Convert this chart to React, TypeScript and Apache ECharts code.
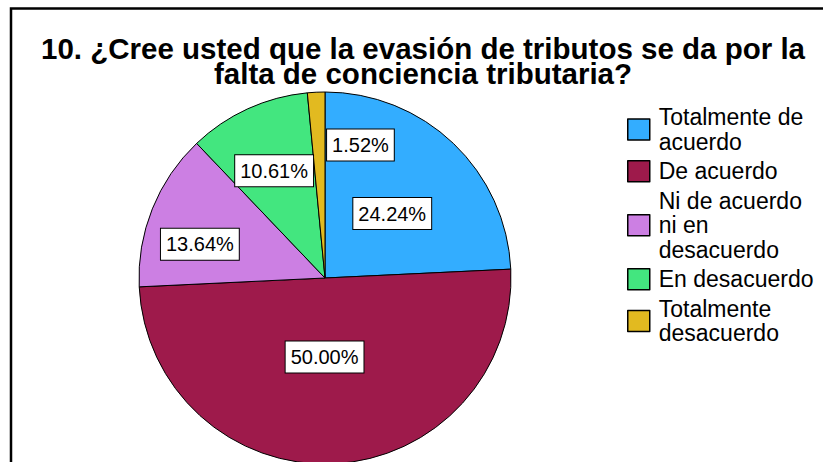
import React, { useEffect, useRef } from "react";
import * as echarts from "echarts";

const TITLE_LINES = [
  "10. ¿Cree usted que la evasión de tributos se da por la",
  "falta de conciencia tributaria?",
];
const CATEGORIES = [
  "Totalmente de acuerdo",
  "De acuerdo",
  "Ni de acuerdo ni en desacuerdo",
  "En desacuerdo",
  "Totalmente desacuerdo",
];
const LEGEND_LABELS = [
  "Totalmente de\nacuerdo",
  "De acuerdo",
  "Ni de acuerdo\nni en\ndesacuerdo",
  "En desacuerdo",
  "Totalmente\ndesacuerdo",
];
const COUNTS = [16, 33, 9, 7, 1];
const COLORS = ["#33adff", "#9e1a4b", "#cc7fe3", "#43e67f", "#e2ba20"];
// label nudges (style only)
const LABEL_SHIFTS = [
  [1, 5],
  [-5, -17],
  [-36, 2],
  [-11, -20],
  [40, -37],
];

const FONT = "'Liberation Sans', Arial, sans-serif";

export default function App() {
  const ref = useRef<HTMLDivElement>(null);
  useEffect(() => {
    if (!ref.current) return;
    const chart = echarts.init(ref.current, null, { renderer: "svg" });
    const total = COUNTS.reduce((a, b) => a + b, 0);
    const data = CATEGORIES.map((name, i) => ({
      name,
      value: COUNTS[i],
      itemStyle: { color: COLORS[i] },
    }));
    const titleStyle = {
      fontFamily: FONT,
      fontSize: 29.5,
      fontWeight: "bold",
      color: "#000",
      lineHeight: 25,
    };
    chart.setOption({
      animation: false,
      backgroundColor: "#fff",
      title: TITLE_LINES.map((t, i) => ({
        text: t,
        left: 423,
        top: 36 + i * 25,
        textAlign: "center",
        padding: 0,
        textStyle: titleStyle,
      })),
      legend: {
        orient: "vertical",
        left: 627,
        top: 105,
        padding: 0,
        itemWidth: 22,
        itemHeight: 21,
        itemGap: 5,
        icon: "rect",
        selectedMode: false,
        data: CATEGORIES,
        formatter: (name: string) => LEGEND_LABELS[CATEGORIES.indexOf(name)],
        textStyle: {
          fontFamily: FONT,
          fontSize: 23,
          lineHeight: 24.5,
          color: "#000",
          padding: [0, 0, 0, 4],
        },
        itemStyle: { borderColor: "#000", borderWidth: 1.5 },
      },
      graphic: [
        {
          type: "rect",
          shape: { x: 11, y: 8.5, width: 900, height: 600 },
          style: { fill: "none", stroke: "#000", lineWidth: 2.5 },
          silent: true,
        },
      ],
      series: [
        {
          type: "pie",
          center: [325, 278],
          radius: 186,
          startAngle: 90,
          clockwise: true,
          data,
          itemStyle: { borderColor: "#000", borderWidth: 1 },
          emphasis: { disabled: true },
          labelLine: { show: false },
          label: {
            show: true,
            position: "inside",
            formatter: (p: any) => ((p.value / total) * 100).toFixed(2) + "%",
            fontFamily: FONT,
            fontSize: 20,
            lineHeight: 20,
            color: "#000",
            backgroundColor: "#fff",
            borderColor: "#000",
            borderWidth: 1,
            padding: [6, 5, 5, 5],
          },
          labelLayout: (params: any) => {
            const s = LABEL_SHIFTS[params.dataIndex] || [0, 0];
            return { dx: s[0], dy: s[1] };
          },
        },
      ],
    });
    return () => chart.dispose();
  }, []);
  return (
    <div
      ref={ref}
      style={{ position: "absolute", left: 0, top: 0, width: 823, height: 462 }}
    />
  );
}
